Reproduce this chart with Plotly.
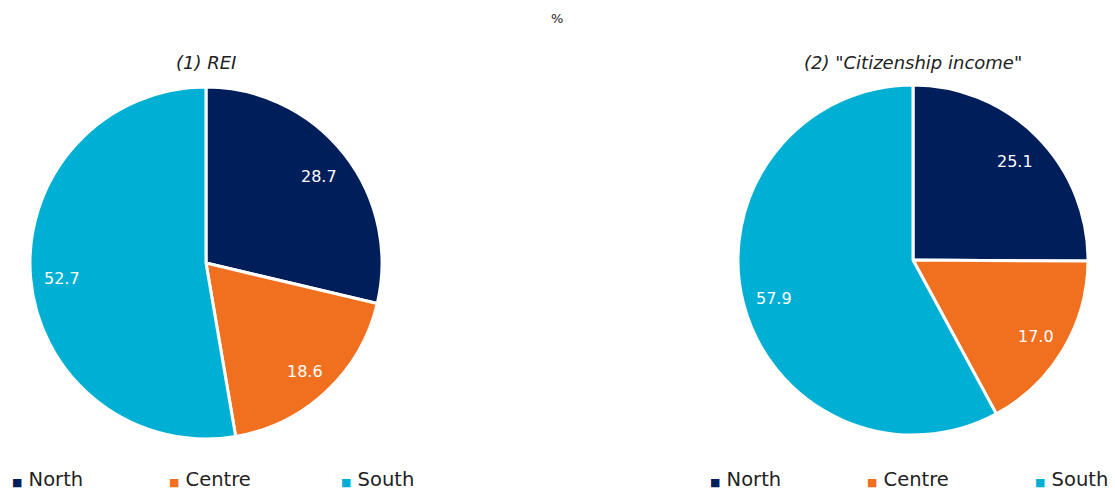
import math
import plotly.graph_objects as go

regions = ["North", "Centre", "South"]
rei_values = [28.7, 18.6, 52.7]
cit_values = [25.1, 17.0, 57.9]
colors = ["#001E5A", "#F07020", "#00B0D4"]
titles = ["<i>(1) REI</i>", "<i>(2) \"Citizenship income\"</i>"]

FONT = "DejaVu Sans"
W, H = 1115, 491

fig = go.Figure()
annotations = []


def add_pie(values, cx, cy, r):
    fig.add_trace(go.Pie(
        labels=regions, values=values, sort=False, direction="clockwise",
        rotation=0, marker=dict(colors=colors, line=dict(color="white", width=3)),
        textinfo="none",
        domain=dict(x=[(cx - r) / W, (cx + r) / W], y=[1 - (cy + r) / H, 1 - (cy - r) / H]),
        showlegend=False, hoverinfo="label+value",
    ))
    total = sum(values)
    cum = 0.0
    for v in values:
        mid = (cum + v / 2) / total * 2 * math.pi
        cum += v
        rr = 0.82 * r
        annotations.append(dict(
            text=f"{v:.1f}", x=(cx + rr * math.sin(mid)) / W, y=1 - (cy + 3 - rr * math.cos(mid)) / H,
            xref="paper", yref="paper", xanchor="center", yanchor="middle", showarrow=False,
            font=dict(size=16, family=FONT, color="white")))


add_pie(rei_values, 206, 263, 176)
add_pie(cit_values, 913, 260, 175)

annotations += [
    dict(text="%", x=557 / W, y=1 - 18 / H, xref="paper", yref="paper",
         xanchor="center", yanchor="middle",
         showarrow=False, font=dict(size=13, family=FONT, color="#222")),
    dict(text=titles[0], x=206 / W, y=1 - 62 / H, xref="paper", yref="paper",
         xanchor="center", yanchor="middle",
         showarrow=False, font=dict(size=18, family=FONT, color="#222")),
    dict(text=titles[1], x=913 / W, y=1 - 62 / H, xref="paper", yref="paper",
         xanchor="center", yanchor="middle",
         showarrow=False, font=dict(size=18, family=FONT, color="#222")),
]

legend_x = [[10, 167, 339], [708, 865, 1033]]
for group in legend_x:
    for name, col, lx in zip(regions, colors, group):
        annotations.append(dict(
            text=f"<span style='color:{col};font-size:11px'>■</span> {name}",
            x=lx / W, y=1 - 479 / H, xref="paper", yref="paper", xanchor="left",
            yanchor="middle",
            showarrow=False, font=dict(size=19.5, family=FONT, color="#222")))

fig.update_layout(
    width=W, height=H, margin=dict(l=0, r=0, t=0, b=0),
    paper_bgcolor="white", plot_bgcolor="white",
    annotations=annotations,
)

fig.write_html("out.html", post_script="document.body.style.margin='0px';",
               config={"displayModeBar": False})
